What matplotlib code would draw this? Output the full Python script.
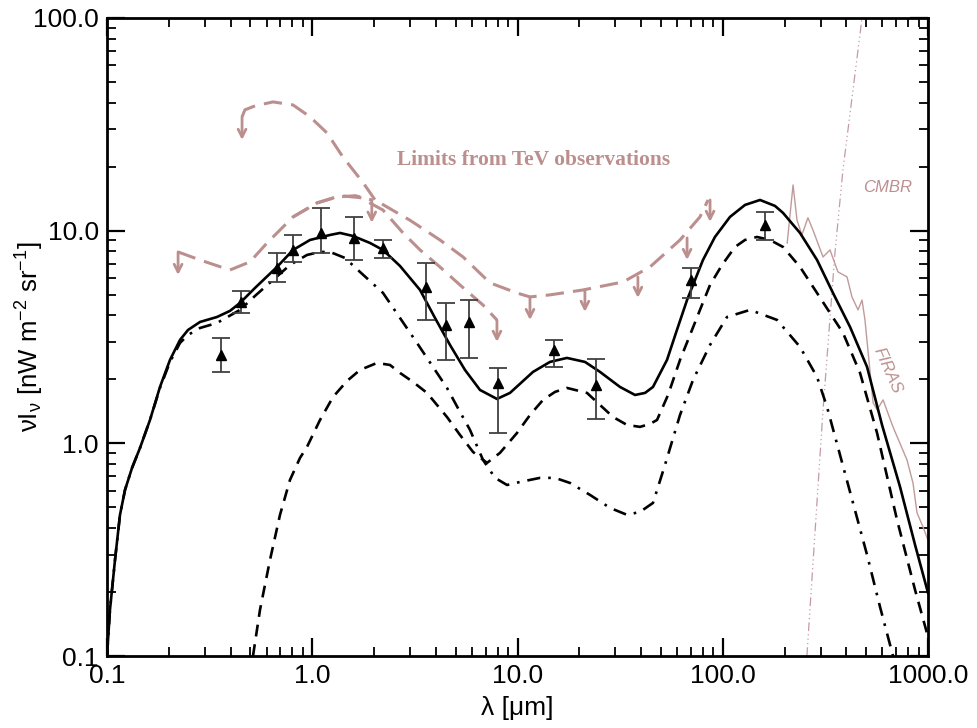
import matplotlib
matplotlib.use('Agg')
import matplotlib.pyplot as plt

PINK = '#bc8f8f'

# ---- total EBL model (solid) ----
tot_x = [0.1, 0.1034, 0.1094, 0.1157, 0.1224, 0.1324, 0.1448, 0.162, 0.1812, 0.2027,
         0.2268, 0.2481, 0.2839, 0.3435, 0.3973, 0.4446, 0.526, 0.6734, 0.8058, 0.975,
         1.221, 1.366, 1.579, 1.911, 2.212, 2.676, 3.35, 3.963, 4.688, 5.548,
         6.565, 7.94, 9.19, 11.9, 14.39, 17.41, 21.32, 25.23, 31.58, 37.37,
         41.81, 45.71, 53.5, 59.8, 67.0, 80.1, 91.6, 108.4, 128.3, 151.9,
         179.7, 196.6, 237.9, 287.9, 344.3, 416.9, 504.7, 597, 730.6, 864.7, 1000]
tot_y = [0.1, 0.165, 0.283, 0.461, 0.604, 0.766, 0.951, 1.288, 1.841, 2.467,
         3.063, 3.412, 3.721, 3.927, 4.195, 4.571, 5.377, 6.75, 8.11, 9.04,
         9.545, 9.754, 9.44, 8.753, 8.11, 6.823, 5.262, 3.886, 2.902, 2.213,
         1.782, 1.617, 1.726, 2.167, 2.414, 2.521, 2.414, 2.167, 1.841, 1.688,
         1.726, 1.841, 2.467, 3.412, 4.722, 7.283, 9.34, 11.6, 13.21, 13.94,
         13.07, 12.12, 9.754, 7.283, 5.094, 3.527, 2.286, 1.22, 0.624, 0.333, 0.198]

# ---- dust component (dashed) ----
dust_x = [0.5144, 0.5565, 0.6225, 0.6964, 0.779, 0.8716, 0.9428, 1.091, 1.263, 1.477,
          1.709, 2.068, 2.392, 2.676, 3.096, 3.623, 4.053, 4.533, 5.246, 6.07,
          7.102, 8.216, 9.945, 11.51, 13.31, 15.23, 17.41, 21.81, 25.23, 29.2,
          34.17, 39.53, 44.22, 47.84, 54.12, 61.91, 69.25, 77.45, 86.7, 99.2,
          114.7, 128.3, 146.9, 169.9, 196.6, 237.9, 287.9, 333.1, 385.3, 466.4,
          564.4, 706.3, 864.7, 1000]
dust_y = [0.1, 0.165, 0.283, 0.461, 0.673, 0.854, 0.962, 1.288, 1.652, 1.965,
          2.213, 2.388, 2.336, 2.143, 1.944, 1.726, 1.515, 1.33, 1.095, 0.911,
          0.809, 0.902, 1.119, 1.36, 1.6, 1.745, 1.822, 1.726, 1.515, 1.33,
          1.22, 1.195, 1.234, 1.288, 1.688, 2.467, 3.232, 4.24, 5.556, 6.898,
          8.38, 9.04, 9.34, 9.04, 8.38, 6.75, 5.094, 4.10, 3.304, 2.143,
          1.119, 0.4365, 0.2045, 0.123]

# ---- stellar + other component (dash-dot) ----
star_x = [0.1, 0.1034, 0.1094, 0.1157, 0.1224, 0.1324, 0.1448, 0.162, 0.1812, 0.2027,
          0.2268, 0.2481, 0.2839, 0.3435, 0.4446, 0.526, 0.6438, 0.779, 0.9428, 1.091,
          1.221, 1.444, 1.709, 2.212, 2.676, 3.238, 3.963, 4.533, 5.246, 5.869,
          6.79, 7.77, 8.889, 10.28, 12.87, 15.23, 18.03, 22.56, 28.23, 34.17,
          39.53, 45.71, 52.3, 61.91, 71.64, 86.7, 104.9, 135.8, 183.8, 237.9,
          287.9, 322.0, 372.6, 431.1, 504.7, 583.7, 675.2]
star_y = [0.1, 0.165, 0.283, 0.461, 0.604, 0.766, 0.951, 1.288, 1.822, 2.414,
          2.965, 3.232, 3.486, 3.681, 4.24, 4.932, 5.862, 6.898, 7.688, 7.94,
          7.94, 7.44, 6.394, 5.094, 3.886, 2.965, 2.213, 1.822, 1.405, 1.156,
          0.836, 0.688, 0.637, 0.658, 0.688, 0.688, 0.651, 0.572, 0.497, 0.461,
          0.476, 0.5245, 0.7915, 1.36, 1.986, 2.902, 3.927, 4.24, 3.804, 2.84,
          2.052, 1.483, 0.882, 0.5245, 0.2987, 0.1701, 0.1]

# ---- measurements ----
obs_x = [0.36, 0.45, 0.67, 0.81, 1.1, 1.6, 2.2, 3.6, 4.5, 5.8, 8.0, 15, 24, 70, 160]
obs_y = [2.60, 4.62, 6.68, 8.12, 9.75, 9.24, 8.30, 5.43, 3.60, 3.72, 1.92, 2.75, 1.88, 5.86, 10.6]
obs_hi = [3.13, 5.20, 7.86, 9.55, 12.8, 11.6, 9.04, 7.05, 4.57, 4.72, 2.26, 3.06, 2.49, 6.68, 12.25]
obs_lo = [2.17, 4.10, 5.74, 7.13, 7.86, 7.28, 7.44, 3.80, 2.47, 2.52, 1.12, 2.29, 1.30, 4.83, 9.04]

# ---- TeV upper limits ----
tevA_x = [0.455, 0.47, 0.526, 0.644, 0.806, 0.975, 1.18, 1.41, 1.77, 2.07, 2.14, 2.99, 4.19, 5.43,
          7.35, 9.95, 11.5, 14.4, 20.8, 32.7, 44.2, 61.9, 77.4, 84.8]
tevA_y = [34.3, 37.0, 38.6, 40.3, 39.0, 34.3, 28.8, 22.2, 16.8, 13.5, 13.5, 11.2, 9.04, 7.52,
          5.68, 5.09, 4.88, 4.99, 5.26, 5.74, 6.75, 9.04, 11.6, 13.94]
tevB_x = [0.222, 0.284, 0.397, 0.497, 0.602, 0.806, 1.055, 1.32, 1.62, 1.95]
tevB_y = [7.94, 7.28, 6.53, 7.13, 8.75, 11.6, 13.5, 14.4, 14.6, 13.94]
tevC_x = [0.806, 1.055, 1.365, 1.71, 2.21, 2.77, 3.35, 4.19, 5.25, 6.79, 7.94]
tevC_y = [11.6, 13.5, 14.6, 14.3, 12.5, 9.75, 8.12, 6.75, 5.55, 4.47, 3.80]
arrow_x = [0.222, 0.455, 1.95, 7.94, 11.5, 21.3, 38.6, 67.0, 86.7]
arrow_top = [7.94, 34.3, 13.94, 3.80, 4.88, 5.26, 6.06, 9.24, 13.94]
arrow_tip = [6.19, 26.7, 10.9, 3.00, 3.80, 4.15, 4.83, 7.28, 11.0]

# ---- CMBR and FIRAS ----
cmb_x = [257, 308, 352, 385, 477]
cmb_y = [0.1, 1.44, 7.86, 19.3, 100]
firas_x = [206, 220, 230, 243, 260, 275, 308, 333, 344, 364, 403, 426, 456, 477, 493,
           540, 565, 604, 675, 790, 845, 884, 945, 1000]
firas_y = [8.75, 16.4, 11.2, 9.55, 11.5, 10.07, 7.52, 8.12, 7.44, 6.40, 6.06, 4.88, 4.24,
           4.72, 3.80, 1.55, 1.44, 1.60, 1.195, 0.835, 0.65, 0.471, 0.405, 0.35]

xticks = [0.1, 1, 10, 100, 1000]
xtick_labels = ['0.1', '1.0', '10.0', '100.0', '1000.0']
yticks = [0.1, 1, 10, 100]
ytick_labels = ['0.1', '1.0', '10.0', '100.0']

plt.rcParams['font.family'] = ['Liberation Sans', 'DejaVu Sans']
plt.rcParams['mathtext.default'] = 'regular'

fig = plt.figure(figsize=(9.78, 7.28), dpi=100)
ax = fig.add_axes([0.1094, 0.0989, 0.8395, 0.8764])
ax.set_xscale('log')
ax.set_yscale('log')
ax.set_xlim(0.1, 1000)
ax.set_ylim(0.1, 100)

# TeV limits
tev_style = dict(color=PINK, lw=2.2, linestyle=(0, (6, 3)), dash_capstyle='butt')
ax.plot(tevA_x, tevA_y, **tev_style)
ax.plot(tevB_x, tevB_y, **tev_style)
ax.plot(tevC_x, tevC_y, **tev_style)
for x, y0, y1 in zip(arrow_x, arrow_top, arrow_tip):
    ax.annotate('', xy=(x, y1), xytext=(x, y0),
                arrowprops=dict(arrowstyle='->,head_width=0.28,head_length=0.55',
                                color=PINK, lw=2.0, shrinkA=0, shrinkB=0))

# CMBR / FIRAS
ax.plot(cmb_x, cmb_y, color='#c49aa6', lw=0.9, linestyle=(0, (7, 2.5, 1, 2.5, 1, 2.5, 1, 2.5)))
ax.plot(firas_x, firas_y, color='#c09a9a', lw=1.0)

# models
ax.plot(tot_x, tot_y, color='black', lw=1.9)
ax.plot(dust_x, dust_y, color='black', lw=1.9, linestyle=(0, (4.5, 3)))
ax.plot(star_x, star_y, color='black', lw=1.9, linestyle=(0, (5, 3, 1, 3)))

# data
yerr = [[y - lo for y, lo in zip(obs_y, obs_lo)], [hi - y for y, hi in zip(obs_y, obs_hi)]]
ax.errorbar(obs_x, obs_y, yerr=yerr, fmt='^', color='black', ecolor='#404040',
            elinewidth=1.3, capsize=6.5, capthick=1.3, markersize=7, zorder=5)

ax.text(0.52, 0.777, 'Limits from TeV observations', transform=ax.transAxes,
        ha='center', va='center', fontsize=15.5, fontweight='bold', color=PINK,
        family=['Liberation Serif', 'DejaVu Serif'])
ax.text(0.951, 0.735, 'CMBR', transform=ax.transAxes, ha='center', va='center',
        fontsize=12, style='italic', color=PINK)
ax.text(0.951, 0.448, 'FIRAS', transform=ax.transAxes, ha='center', va='center',
        fontsize=12, style='italic', color=PINK, rotation=-66)

ax.set_xticks(xticks)
ax.set_xticklabels(xtick_labels)
ax.set_yticks(yticks)
ax.set_yticklabels(ytick_labels)
ax.tick_params(which='major', direction='in', length=13, width=1.6, labelsize=19,
               top=True, right=True, pad=6)
ax.tick_params(which='minor', direction='in', length=6.5, width=1.3, top=True, right=True)
for s in ax.spines.values():
    s.set_linewidth(2.0)

ax.set_xlabel('λ [μm]', fontsize=19)
ax.set_ylabel('νI$_{ν}$ [nW m$^{-2}$ sr$^{-1}$]', fontsize=18.5)
ax.xaxis.set_label_coords(0.5, -0.062)
ax.yaxis.set_label_coords(-0.074, 0.5)

fig.savefig('out.png', dpi=100, facecolor='white')
